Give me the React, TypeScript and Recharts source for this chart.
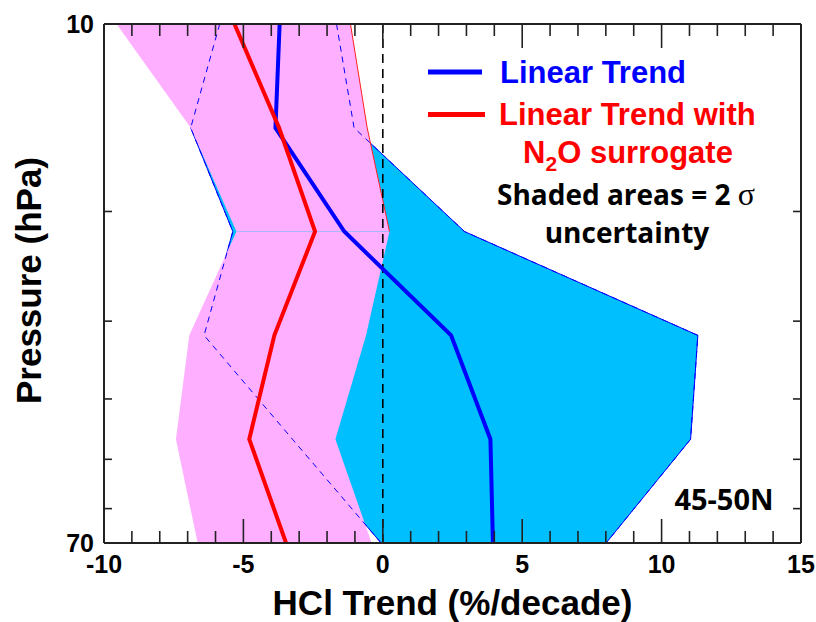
import React from 'react';
import { ComposedChart, Area, Line, XAxis, YAxis, ReferenceLine, Label } from 'recharts';

// Pressure levels (hPa)
const pressures = [10, 14.68, 21.54, 31.62, 46.42, 68.13];
// HCl trends (%/decade)
const linearTrend = [-3.7, -3.85, -1.38, 2.45, 3.86, 3.95];
const n2oTrend = [-5.32, -3.72, -2.43, -3.89, -4.79, -3.47];
// 2-sigma bounds
const linearLow = [-5.85, -6.89, -5.38, -6.41, -3.24, -0.06];
const linearHigh = [-1.66, -1.03, 2.93, 11.3, 11.04, 8.01];
const n2oLow = [-9.55, -6.89, -5.25, -6.94, -7.42, -6.64];
const n2oHigh = [-1.16, -0.56, 0.24, -0.6, -1.7, -0.4];

const xTicks = [-10, -9, -8, -7, -6, -5, -4, -3, -2, -1, 0, 1, 2, 3, 4, 5, 6, 7, 8, 9, 10, 11, 12, 13, 14, 15];
const xMajor = [-10, -5, 0, 5, 10, 15];
const yTicks = [10, 20, 30, 40, 50, 60, 68.13];
const yLabelled = [10, 68.13];

const rows = pressures.map((p, i) => ({
  p,
  linear: linearTrend[i],
  n2o: n2oTrend[i],
  linearBand: [linearLow[i], linearHigh[i]],
  n2oBand: [n2oLow[i], n2oHigh[i]],
  linearLow: linearLow[i],
  linearHigh: linearHigh[i],
  n2oHighTop: i <= 2 ? n2oHigh[i] : null,
}));

const SANS = '"Liberation Sans", Arial, Helvetica, sans-serif';
const MYRIAD = '"Open Sans", "Noto Sans", sans-serif';
const FRAME = '#222';

const fmtY = (v: number) => String(Math.round(v / 10) * 10);

const BottomTick = (props: any) => {
  const { x, y, payload } = props;
  const v = payload.value;
  const major = xMajor.includes(v);
  return (
    <g>
      <line x1={x} y1={y} x2={x} y2={y - (major ? 24 : 12)} stroke={FRAME} strokeWidth={1.6} />
      {major && (
        <text x={x} y={y + 30} textAnchor="middle" fontFamily={SANS} fontWeight={700} fontSize={25} fill="#000">
          {v}
        </text>
      )}
    </g>
  );
};

const TopTick = (props: any) => {
  const { x, y, payload } = props;
  const major = xMajor.includes(payload.value);
  return <line x1={x} y1={y} x2={x} y2={y + (major ? 24 : 12)} stroke={FRAME} strokeWidth={1.6} />;
};

const LeftTick = (props: any) => {
  const { x, y, payload } = props;
  const v = payload.value;
  const lab = yLabelled.includes(v);
  return (
    <g>
      {!lab && <line x1={x} y1={y} x2={x + 8} y2={y} stroke={FRAME} strokeWidth={1.6} />}
      {lab && (
        <text x={x - 10} y={y + 9} textAnchor="end" fontFamily={SANS} fontWeight={700} fontSize={25} fill="#000">
          {fmtY(v)}
        </text>
      )}
    </g>
  );
};

const RightTick = (props: any) => {
  const { x, y, payload } = props;
  if (yLabelled.includes(payload.value)) return <g />;
  return <line x1={x} y1={y} x2={x - 8} y2={y} stroke={FRAME} strokeWidth={1.6} />;
};

const XTitle = (props: any) => {
  const vb = props.viewBox || { x: 0, y: 0, width: 0, height: 0 };
  return (
    <text x={vb.x + vb.width / 2} y={vb.y + vb.height - 7} textAnchor="middle" fontFamily={SANS} fontWeight={700} fontSize={35} fill="#000">
      HCl Trend (%/decade)
    </text>
  );
};

const YTitle = (props: any) => {
  const vb = props.viewBox || { x: 0, y: 0, width: 0, height: 0 };
  return (
    <text
      transform={`translate(${vb.x + 41}, ${vb.y + vb.height / 2 - 3}) rotate(-90)`}
      textAnchor="middle"
      fontFamily={SANS}
      fontWeight={700}
      fontSize={35}
      fill="#000"
    >
      Pressure (hPa)
    </text>
  );
};

const axisLine = { stroke: FRAME, strokeWidth: 2 };

export default function App() {
  return (
    <div style={{ position: 'absolute', left: 0, top: 0, width: 816, height: 622, background: '#fff' }}>
      <ComposedChart layout="vertical" width={816} height={622} data={rows} margin={{ top: 0, right: 0, bottom: 0, left: 0 }}>
        <XAxis
          xAxisId="b"
          orientation="bottom"
          type="number"
          domain={[-10, 15]}
          ticks={xTicks}
          interval={0}
          allowDataOverflow
          height={79}
          tickSize={0}
          tickMargin={0}
          tickLine={false}
          axisLine={axisLine}
          tick={BottomTick}
        >
          <Label content={XTitle} />
        </XAxis>
        <XAxis
          xAxisId="t"
          orientation="top"
          type="number"
          domain={[-10, 15]}
          ticks={xTicks}
          interval={0}
          allowDataOverflow
          height={24}
          tickSize={0}
          tickMargin={0}
          tickLine={false}
          axisLine={axisLine}
          tick={TopTick}
        />
        <YAxis
          yAxisId="l"
          orientation="left"
          type="number"
          dataKey="p"
          scale="log"
          domain={[10, 68.13]}
          ticks={yTicks}
          interval={0}
          allowDataOverflow
          width={104}
          tickSize={0}
          tickMargin={0}
          tickLine={false}
          axisLine={axisLine}
          tick={LeftTick}
        >
          <Label content={YTitle} />
        </YAxis>
        <YAxis
          yAxisId="r"
          orientation="right"
          type="number"
          dataKey="p"
          scale="log"
          domain={[10, 68.13]}
          ticks={yTicks}
          interval={0}
          allowDataOverflow
          width={15}
          tickSize={0}
          tickMargin={0}
          tickLine={false}
          axisLine={axisLine}
          tick={RightTick}
        />

        <Area
          xAxisId="b"
          yAxisId="l"
          dataKey="linearBand"
          type="linear"
          fill="#00bfff"
          fillOpacity={1}
          stroke="#0000ff"
          strokeWidth={1}
          dot={false}
          activeDot={false}
          isAnimationActive={false}
        />
        <Area
          xAxisId="b"
          yAxisId="l"
          dataKey="n2oBand"
          type="linear"
          fill="#ffafff"
          fillOpacity={1}
          stroke="none"
          dot={false}
          activeDot={false}
          isAnimationActive={false}
        />
        <ReferenceLine
          xAxisId="b"
          yAxisId="l"
          segment={[
            { x: n2oLow[2], y: pressures[2] },
            { x: n2oHigh[2], y: pressures[2] },
          ]}
          stroke="#a8b4ff"
          strokeWidth={1}
        />
        <Line xAxisId="b" yAxisId="l" dataKey="linearLow" type="linear" stroke="#0000ff" strokeWidth={1} strokeDasharray="6 5" dot={false} activeDot={false} isAnimationActive={false} />
        <Line xAxisId="b" yAxisId="l" dataKey="linearHigh" type="linear" stroke="#0000ff" strokeWidth={1} strokeDasharray="6 5" dot={false} activeDot={false} isAnimationActive={false} />
        <Line xAxisId="b" yAxisId="l" dataKey="n2oHighTop" type="linear" stroke="#ff2020" strokeWidth={1} dot={false} activeDot={false} isAnimationActive={false} />
        <ReferenceLine xAxisId="b" yAxisId="l" x={0} stroke="#000" strokeWidth={1.6} strokeDasharray="9 6" />
        <Line xAxisId="b" yAxisId="l" dataKey="linear" type="linear" stroke="#0000ff" strokeWidth={4} dot={false} activeDot={false} isAnimationActive={false} />
        <Line xAxisId="b" yAxisId="l" dataKey="n2o" type="linear" stroke="#ff0000" strokeWidth={4} dot={false} activeDot={false} isAnimationActive={false} />
      </ComposedChart>

      <svg width={816} height={622} style={{ position: 'absolute', left: 0, top: 0, pointerEvents: 'none' }}>
        <line x1={428} y1={72} x2={482} y2={72} stroke="#0000ff" strokeWidth={5} />
        <text x={500} y={83} fontFamily={SANS} fontWeight={700} fontSize={31} fill="#0000ff">Linear Trend</text>
        <line x1={428} y1={114.5} x2={485} y2={114.5} stroke="#ff0000" strokeWidth={5} />
        <text x={499} y={125} fontFamily={SANS} fontWeight={700} fontSize={31} fill="#ff0000">Linear Trend with</text>
        <text x={628} y={163} textAnchor="middle" fontFamily={SANS} fontWeight={700} fontSize={31} fill="#ff0000">
          N<tspan fontSize={21} dy={8}>2</tspan><tspan dy={-8}>O surrogate</tspan>
        </text>
        <text x={626} y={205} textAnchor="middle" fontFamily={MYRIAD} fontWeight={700} fontSize={28} fill="#000">
          Shaded areas = 2 <tspan fontFamily='"Liberation Serif", "DejaVu Serif", serif' fontWeight={400} fontSize={32}>σ</tspan>
        </text>
        <text x={627} y={243} textAnchor="middle" fontFamily={MYRIAD} fontWeight={700} fontSize={28} fill="#000">uncertainty</text>
        <text x={724} y={510} textAnchor="middle" fontFamily={MYRIAD} fontWeight={700} fontSize={29} fill="#000">45-50N</text>
      </svg>
    </div>
  );
}
